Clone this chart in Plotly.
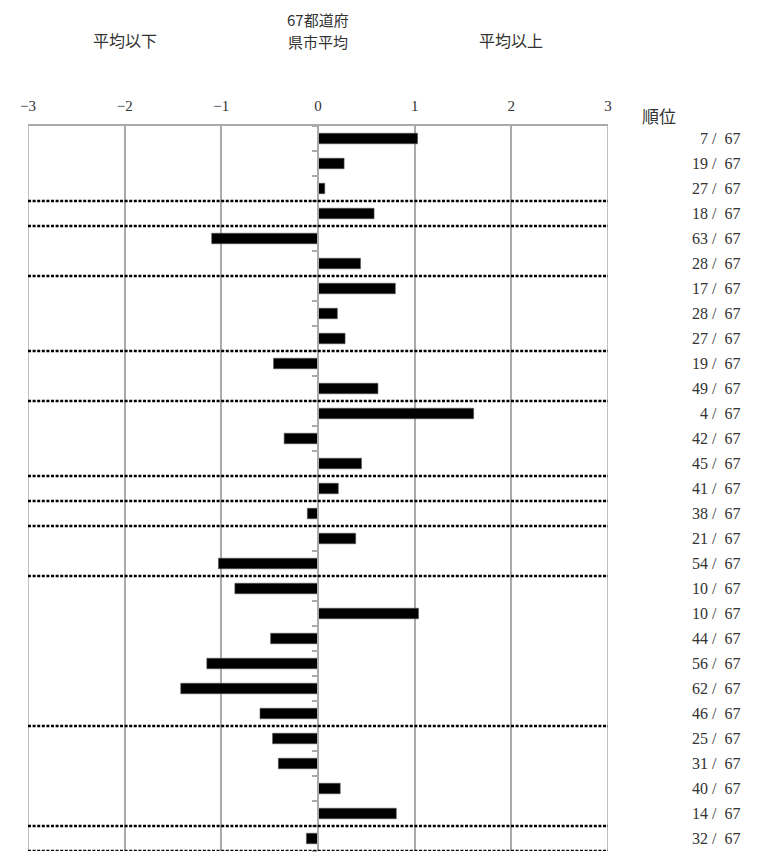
import plotly.graph_objects as go

# Data
values = [1.03, 0.27, 0.07, 0.58, -1.10, 0.44, 0.80, 0.20, 0.28, -0.46,
          0.62, 1.61, -0.35, 0.45, 0.21, -0.11, 0.39, -1.03, -0.86, 1.04,
          -0.49, -1.15, -1.42, -0.60, -0.47, -0.41, 0.23, 0.81, -0.12]
ranks = [7, 19, 27, 18, 63, 28, 17, 28, 27, 19,
         49, 4, 42, 45, 41, 38, 21, 54, 10, 10,
         44, 56, 62, 46, 25, 31, 40, 14, 32]
total = 67
# group separators: dotted line drawn after these row counts
group_ends = [3, 4, 6, 9, 11, 14, 15, 16, 18, 24, 28, 29]
x_ticks = [-3, -2, -1, 0, 1, 2, 3]
header_left = "平均以下"
header_mid_1 = "67都道府"
header_mid_2 = "県市平均"
header_right = "平均以上"
rank_title = "順位"

SERIF = "'Liberation Serif', 'DejaVu Serif', serif"
CJK = "'Noto Sans CJK JP'"
TXT = "#333333"
GRID = "#aaaaaa"
n = len(values)
rows = list(range(n))

fig = go.Figure()
fig.add_trace(go.Bar(
    x=values, y=rows, orientation="h",
    marker=dict(color="#000000", line=dict(color="#555555", width=0.6)),
    width=0.42, hoverinfo="skip", showlegend=False,
))

shapes = []
# edge lines at the outer ticks
for xv in (x_ticks[0], x_ticks[-1]):
    shapes.append(dict(type="line", xref="x", yref="paper", x0=xv, x1=xv,
                       y0=0, y1=1, line=dict(color=GRID, width=1.5), layer="below"))
for g in group_ends:
    shapes.append(dict(type="line", xref="x", yref="y",
                       x0=x_ticks[0], x1=x_ticks[-1], y0=g - 0.5, y1=g - 0.5,
                       line=dict(color="#000000", width=2.6, dash="3px,1.6px"),
                       layer="above"))

annotations = []
for i, r in enumerate(ranks):
    annotations.append(dict(xref="paper", yref="y", x=1.231, y=i,
                            text=f"{r} /  {total}", showarrow=False,
                            xanchor="right", yanchor="middle",
                            font=dict(family=SERIF, size=16, color=TXT)))
annotations.append(dict(xref="paper", yref="paper", x=1.055, y=1.0,
                        text=rank_title, showarrow=False,
                        xanchor="left", yanchor="middle", yshift=11,
                        font=dict(family=CJK, size=17, color=TXT)))
for xv, txt, ys, fs in ((-2.0, header_left, 86, 16), (0.0, header_mid_1, 106.5, 15),
                        (0.0, header_mid_2, 85, 15), (2.0, header_right, 86, 16)):
    annotations.append(dict(xref="x", yref="paper", x=xv, y=1.0, yshift=ys,
                            text=txt, showarrow=False, borderpad=0,
                            xanchor="center", yanchor="middle",
                            font=dict(family=CJK, size=fs, color=TXT)))

fig.update_layout(
    width=750, height=846,
    margin=dict(l=20, r=150, t=118, b=3, autoexpand=False),
    paper_bgcolor="white", plot_bgcolor="white",
    shapes=shapes, annotations=annotations,
    xaxis=dict(range=[x_ticks[0], x_ticks[-1]], side="top", tickvals=x_ticks,
               ticktext=[("−" + str(-v)) if v < 0 else str(v) for v in x_ticks],
               showgrid=True, gridcolor=GRID, gridwidth=1.5,
               zeroline=False, showline=True, linecolor=GRID, linewidth=1.5,
               ticks="inside", ticklen=6, tickcolor=GRID, tickwidth=1.5,
               ticklabelstandoff=7, automargin=False,
               tickfont=dict(family=SERIF, size=15, color=TXT),
               fixedrange=True),
    yaxis=dict(range=[n - 0.5, -0.5], anchor="free", position=0.5,
               tickmode="array", tickvals=[k - 0.5 for k in range(n + 1)],
               showticklabels=False, ticks="outside", ticklen=5,
               tickcolor=GRID, tickwidth=1.5, automargin=False,
               showline=True, linecolor=GRID, linewidth=1.5,
               showgrid=False, zeroline=False, fixedrange=True),
)

fig.write_html("out.html")
